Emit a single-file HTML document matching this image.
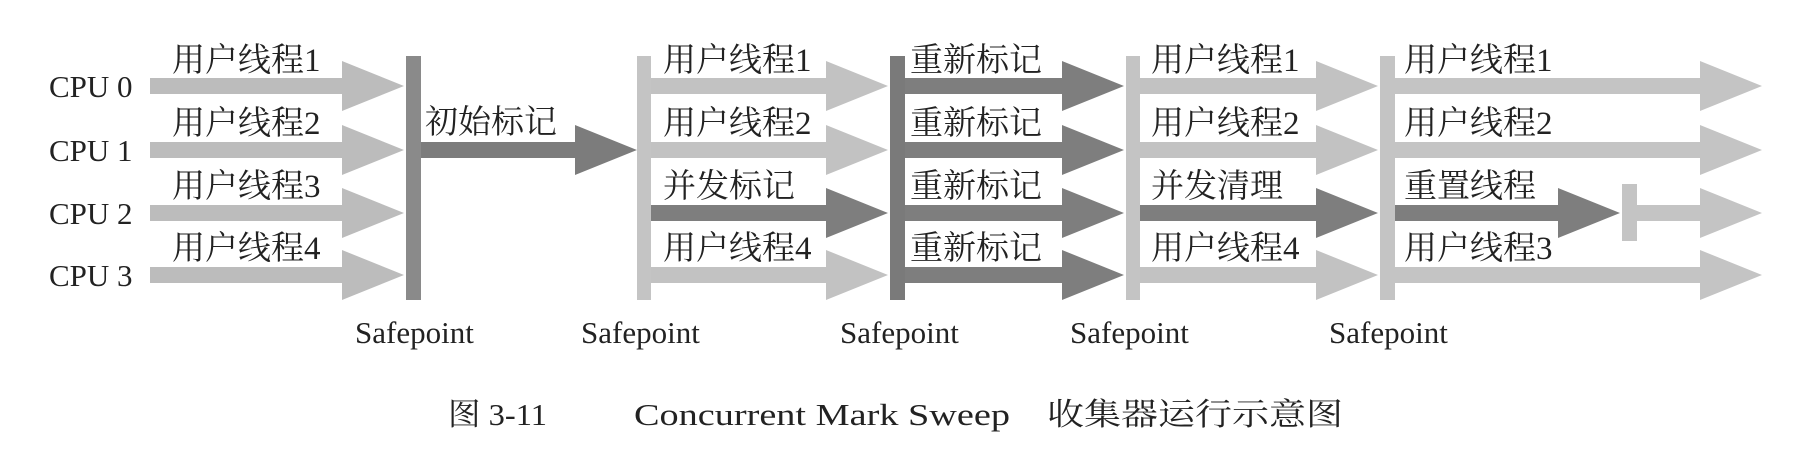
<!DOCTYPE html>
<html><head><meta charset="utf-8"><style>
html,body{margin:0;padding:0;background:#fff;}
svg{display:block}
.c{font-family:"Liberation Serif","Noto Serif CJK SC",serif;font-size:31px;fill:#222}
.l{font-family:"Liberation Serif","Noto Serif CJK SC",serif;font-size:33px;fill:#222}
</style></head><body>
<svg width="1814" height="470" viewBox="0 0 1814 470" xmlns="http://www.w3.org/2000/svg">
<rect width="1814" height="470" fill="#fff"/>
<g fill="#bcbcbc">
<path d="M150 78H342V61L404 86L342 111V94H150Z"/>
<path d="M150 142H342V125L404 150L342 175V158H150Z"/>
<path d="M150 205H342V188L404 213L342 238V221H150Z"/>
<path d="M150 267H342V250L404 275L342 300V283H150Z"/>
</g>
<rect x="406" y="56" width="15" height="244" fill="#8a8a8a"/>
<path d="M421 142H575V125L637 150L575 175V158H421Z" fill="#7c7c7c"/>
<g fill="#c2c2c2">
<path d="M651 78H826V61L888 86L826 111V94H651Z"/>
<path d="M651 142H826V125L888 150L826 175V158H651Z"/>
<path d="M651 267H826V250L888 275L826 300V283H651Z"/>
</g>
<path d="M651 205H826V188L888 213L826 238V221H651Z" fill="#7e7e7e"/>
<rect x="637" y="56" width="14" height="244" fill="#c4c4c4"/>
<g fill="#7e7e7e">
<path d="M905 78H1062V61L1124 86L1062 111V94H905Z"/>
<path d="M905 142H1062V125L1124 150L1062 175V158H905Z"/>
<path d="M905 205H1062V188L1124 213L1062 238V221H905Z"/>
<path d="M905 267H1062V250L1124 275L1062 300V283H905Z"/>
</g>
<rect x="890" y="56" width="15" height="244" fill="#7a7a7a"/>
<g fill="#c2c2c2">
<path d="M1140 78H1316V61L1378 86L1316 111V94H1140Z"/>
<path d="M1140 142H1316V125L1378 150L1316 175V158H1140Z"/>
<path d="M1140 267H1316V250L1378 275L1316 300V283H1140Z"/>
</g>
<path d="M1140 205H1316V188L1378 213L1316 238V221H1140Z" fill="#7e7e7e"/>
<rect x="1126" y="56" width="14" height="244" fill="#c4c4c4"/>
<g fill="#c4c4c4">
<path d="M1395 78H1700V61L1762 86L1700 111V94H1395Z"/>
<path d="M1395 142H1700V125L1762 150L1700 175V158H1395Z"/>
<path d="M1395 267H1700V250L1762 275L1700 300V283H1395Z"/>
<path d="M1637 205H1700V188L1762 213L1700 238V221H1637Z"/>
</g>
<path d="M1395 205H1558V188L1620 213L1558 238V221H1395Z" fill="#7e7e7e"/>
<rect x="1622" y="184" width="15" height="57" fill="#c4c4c4"/>
<rect x="1380" y="56" width="15" height="244" fill="#c4c4c4"/>

<g class="c">
<text x="49" y="97">CPU 0</text>
<text x="49" y="161">CPU 1</text>
<text x="49" y="224">CPU 2</text>
<text x="49" y="286">CPU 3</text>
</g>
<g class="l">
<text x="172" y="71">用户线程1</text>
<text x="172" y="134">用户线程2</text>
<text x="172" y="197">用户线程3</text>
<text x="172" y="259">用户线程4</text>
<text x="425" y="133">初始标记</text>
<text x="663" y="71">用户线程1</text>
<text x="663" y="134">用户线程2</text>
<text x="663" y="197">并发标记</text>
<text x="663" y="259">用户线程4</text>
<text x="910" y="71">重新标记</text>
<text x="910" y="134">重新标记</text>
<text x="910" y="197">重新标记</text>
<text x="910" y="259">重新标记</text>
<text x="1151" y="71">用户线程1</text>
<text x="1151" y="134">用户线程2</text>
<text x="1151" y="197">并发清理</text>
<text x="1151" y="259">用户线程4</text>
<text x="1404" y="71">用户线程1</text>
<text x="1404" y="134">用户线程2</text>
<text x="1404" y="197">重置线程</text>
<text x="1404" y="259">用户线程3</text>
</g>
<g class="c" font-size="31">
<text x="355" y="343">Safepoint</text>
<text x="581" y="343">Safepoint</text>
<text x="840" y="343">Safepoint</text>
<text x="1070" y="343">Safepoint</text>
<text x="1329" y="343">Safepoint</text>
</g>
<g class="c" font-size="37" fill="#333">
<text x="448" y="425" textLength="99" lengthAdjust="spacingAndGlyphs">图 3-11</text>
<text x="634" y="425" textLength="376" lengthAdjust="spacingAndGlyphs">Concurrent Mark Sweep</text>
<text x="1047" y="425" textLength="296" lengthAdjust="spacingAndGlyphs">收集器运行示意图</text>
</g>
</svg>
</body></html>
